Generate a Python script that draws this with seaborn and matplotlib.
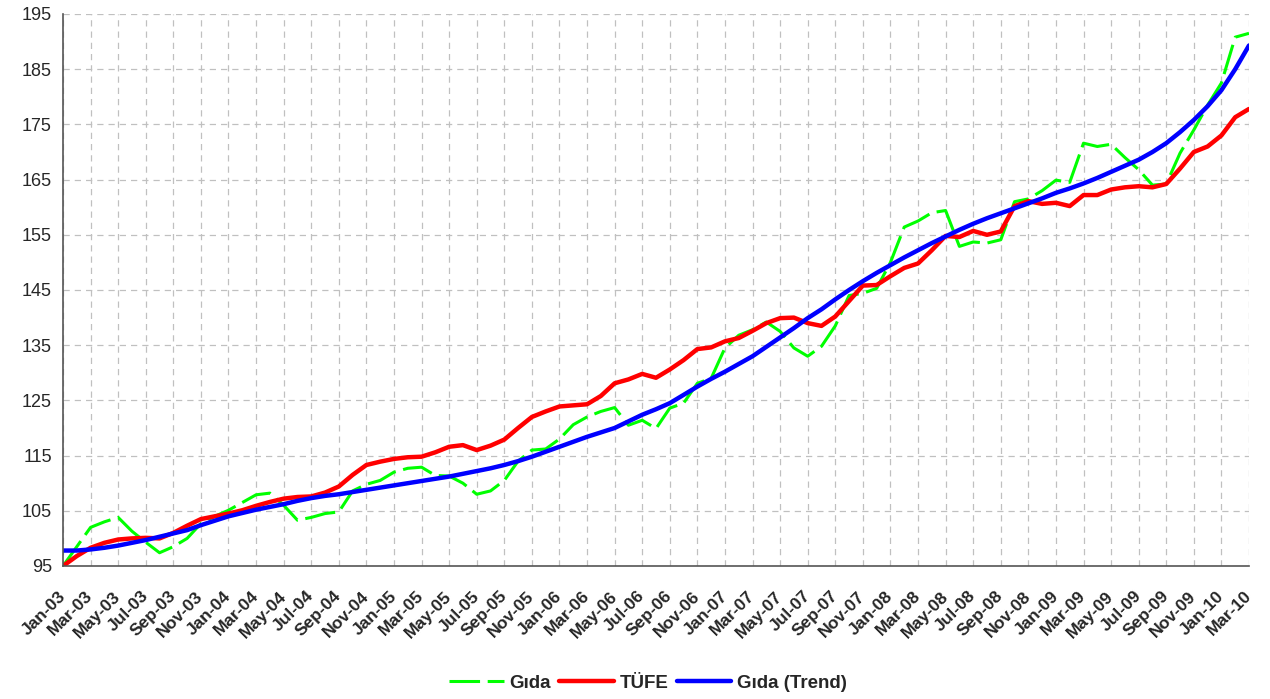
import pandas as pd
import matplotlib
matplotlib.use("Agg")
import matplotlib.pyplot as plt
import seaborn as sns

# monthly index, Jan-03 .. Mar-10
months = pd.date_range("2003-01-01", "2010-03-01", freq="MS")

# values
gida = [95.0, 98.5, 102.0, 103.0, 103.8, 101.3, 99.3, 97.4, 98.5, 100.0,
        102.7, 104.0, 105.1, 106.5, 107.9, 108.2, 106.0, 103.3, 103.8, 104.5,
        104.8, 108.6, 109.8, 110.5, 112.0, 112.7, 112.9, 111.4, 111.3, 110.0,
        108.0, 108.6, 110.5, 114.0, 116.0, 116.2, 118.0, 120.6, 122.0, 123.0,
        123.7, 120.5, 121.4, 119.9, 123.6, 124.5, 128.1, 129.0, 134.5, 136.8,
        137.8, 139.2, 137.5, 134.5, 133.0, 134.8, 138.5, 144.0, 144.4, 145.3,
        150.0, 156.4, 157.5, 159.0, 159.4, 152.9, 153.7, 153.5, 154.1, 161.0,
        161.5, 163.0, 164.9, 164.5, 171.6, 171.0, 171.4, 169.0, 166.8, 164.0,
        164.2, 169.8, 174.0, 178.5, 182.5, 190.8, 191.5]

tufe = [95.0, 96.8, 98.3, 99.2, 99.8, 100.0, 100.1, 100.0, 101.0, 102.3,
        103.5, 104.0, 104.5, 105.1, 105.9, 106.6, 107.2, 107.5, 107.6, 108.3,
        109.4, 111.5, 113.3, 113.9, 114.4, 114.7, 114.8, 115.6, 116.6, 116.9,
        116.0, 116.8, 117.9, 120.0, 122.0, 123.0, 123.9, 124.1, 124.3, 125.8,
        128.1, 128.8, 129.8, 129.1, 130.6, 132.3, 134.3, 134.6, 135.7, 136.3,
        137.6, 139.0, 139.9, 140.0, 139.0, 138.5, 140.2, 143.0, 145.8, 145.9,
        147.5, 149.0, 149.8, 152.2, 154.8, 154.6, 155.7, 155.0, 155.6, 160.2,
        161.1, 160.6, 160.8, 160.2, 162.2, 162.2, 163.2, 163.6, 163.8, 163.6,
        164.2, 167.0, 170.0, 171.0, 173.0, 176.3, 177.8]

gida_trend = [97.8, 97.8, 98.0, 98.3, 98.7, 99.2, 99.7, 100.3, 100.9, 101.5,
              102.4, 103.2, 104.0, 104.6, 105.2, 105.7, 106.2, 106.8, 107.3, 107.7,
              108.0, 108.4, 108.8, 109.2, 109.6, 110.0, 110.4, 110.8, 111.2, 111.7,
              112.2, 112.7, 113.3, 114.0, 114.8, 115.7, 116.6, 117.5, 118.4, 119.2,
              120.0, 121.2, 122.4, 123.4, 124.5, 126.0, 127.5, 128.9, 130.2, 131.6,
              133.0, 134.7, 136.4, 138.1, 139.9, 141.5, 143.3, 145.0, 146.6, 148.1,
              149.5, 150.9, 152.2, 153.5, 154.7, 155.9, 157.0, 158.0, 158.9, 159.8,
              160.7, 161.6, 162.6, 163.4, 164.3, 165.3, 166.4, 167.5, 168.6, 170.0,
              171.6, 173.6, 175.8, 178.3, 181.2, 185.0, 189.3]

df = pd.DataFrame({"t": range(len(months)), "Gıda": gida, "TÜFE": tufe,
                   "Gıda (Trend)": gida_trend})
labels = months.strftime("%b-%y")

sns.set_style("white")
plt.rcParams["font.family"] = ["Liberation Sans", "DejaVu Sans"]

fig = plt.figure(figsize=(12.7, 6.99), dpi=100)
ax = fig.add_axes([63 / 1270, 1 - 566 / 699, (1249 - 63) / 1270, (566 - 14) / 699])

sns.lineplot(data=df, x="t", y="Gıda", ax=ax, color="#00ff00", linewidth=2.2,
             linestyle=(0, (10, 2.5)), label="Gıda")
sns.lineplot(data=df, x="t", y="TÜFE", ax=ax, color="#ff0000", linewidth=3.2,
             label="TÜFE")
sns.lineplot(data=df, x="t", y="Gıda (Trend)", ax=ax, color="#0000ff", linewidth=3.2,
             label="Gıda (Trend)")

ax.set_xlim(0, len(months) - 1)
ax.set_ylim(95, 195)
ax.set_yticks(range(95, 196, 10))
ax.set_xticks(df["t"][::2])
ax.set_xticklabels(labels[::2], rotation=45, ha="right", va="center",
                   rotation_mode="anchor", fontweight="bold", fontsize=12.5)
ax.tick_params(axis="y", labelsize=13, length=5, color="#555555", pad=3)
ax.tick_params(axis="x", length=0, pad=20)
ax.set_xlabel("")
ax.set_ylabel("")

ax.grid(True, linestyle=(0, (5, 4)), color="#c0c0c0", linewidth=0.9)
ax.set_axisbelow(True)
for side in ["top", "right"]:
    ax.spines[side].set_visible(False)
for side in ["left", "bottom"]:
    ax.spines[side].set_color("#555555")
    ax.spines[side].set_linewidth(1.2)

ax.get_legend().remove()
handles, names = ax.get_legend_handles_labels()
fig.legend(handles, names, loc="center", bbox_to_anchor=(648 / 1270, 1 - 683 / 699),
           ncol=3, frameon=False, handlelength=2.9, handletextpad=0.3,
           columnspacing=0.45, prop={"weight": "bold", "size": 13.5})

fig.savefig("out.png", dpi=100)
